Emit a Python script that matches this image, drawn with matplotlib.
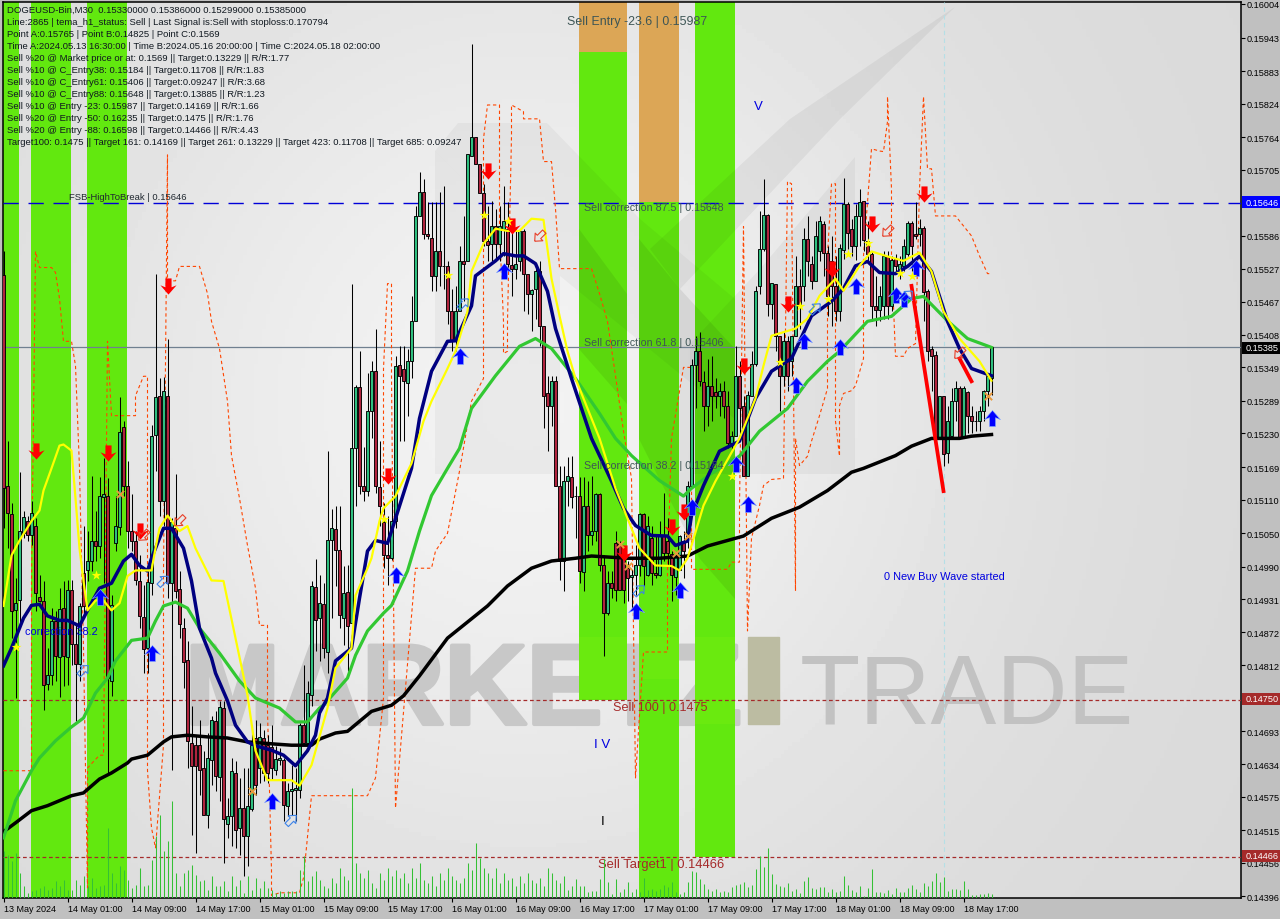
import numpy as np
import matplotlib
matplotlib.use("Agg")
import matplotlib.pyplot as plt
import matplotlib.patheffects as pe
from matplotlib.patches import Polygon, Rectangle
from matplotlib.path import Path
from matplotlib.markers import MarkerStyle
from matplotlib.transforms import Affine2D

# candles, prices in 1/100000
open_px = [
    15516,15136,15084,14911,14929,15050,15072,15046,15064,14935,
    14928,14778,14794,14892,14827,14915,14827,14947,14850,14814,
    14978,14983,15000,15036,15027,15115,15118,14784,15032,15061,
    15241,15135,15055,15036,14964,14899,14843,14960,15228,15297,
    15108,15297,14960,15059,14949,14879,14821,14672,14668,14668,
    14627,14542,14641,14712,14611,14735,14526,14541,14618,14519,
    14555,14505,14553,14681,14627,14681,14668,14665,14623,14641,
    14641,14559,14586,14587,14587,14704,14672,14758,14953,14897,
    14922,14836,15037,15057,15019,14897,14944,14888,15203,15313,
    15136,15126,15270,15342,15133,15070,15010,15005,15073,15354,
    15347,15320,15361,15432,15622,15666,15590,15583,15514,15559,
    15532,15531,15450,15396,15450,15541,15540,15730,15765,15716,
    15664,15576,15572,15604,15572,15599,15599,15534,15527,15540,
    15595,15518,15482,15491,15523,15424,15302,15279,15325,15136,
    15000,15145,15151,15117,15118,14980,15100,15046,15054,15120,
    14992,14906,14960,15032,15032,15010,14987,14971,14974,14992,
    15084,14974,15041,14978,14974,15045,15036,15012,14971,14983,
    15036,15045,15136,15354,15378,15322,15279,15316,15304,15298,
    15306,15280,15212,15226,15334,15280,15154,15298,15356,15495,
    15563,15624,15464,15500,15406,15334,15396,15360,15406,15496,
    15495,15581,15536,15504,15558,15608,15556,15540,15496,15451,
    15561,15644,15599,15568,15621,15649,15576,15554,15459,15453,
    15459,15550,15459,15545,15523,15531,15554,15610,15590,15590,
    15601,15486,15383,15372,15221,15297,15194,15226,15289,15311,
    15221,15304,15262,15253,15253,15271,15307,15330]
close_px = [
    15131,15086,14910,14924,15054,15079,15046,15086,14942,14928,
    14776,14794,14892,14829,14913,14829,14947,14850,14814,14919,
    14919,15000,15036,15027,15117,15120,14789,14920,15063,15232,
    15136,15055,15036,14965,14901,14841,14962,15226,15295,15108,
    15306,14960,15070,14946,14886,14818,14676,14631,14631,14623,
    14542,14645,14713,14613,14737,14535,14541,14622,14515,14555,
    14505,14559,14668,14596,14683,14618,14618,14627,14643,14645,
    14560,14586,14589,14591,14704,14672,14762,14955,14893,14924,
    14843,15037,15059,15019,14902,14942,14883,15203,15313,15136,
    15127,15270,15342,15136,15099,15010,15005,15073,15352,15333,
    15324,15361,15433,15622,15666,15590,15585,15514,15559,15532,
    15531,15450,15396,15450,15541,15536,15734,15765,15716,15664,
    15576,15570,15604,15572,15603,15613,15536,15527,15536,15595,
    15518,15482,15489,15523,15424,15298,15279,15324,15136,15000,
    15145,15153,15115,15118,14982,15100,15046,15054,15120,14992,
    14906,14960,14951,14947,14947,14947,14969,14974,14992,15084,
    14991,15063,14978,14974,15046,15014,15014,14974,15009,15045,
    15018,15136,15354,15378,15324,15279,15316,15298,15298,15306,
    15280,15212,15226,15334,15275,15154,15300,15356,15487,15563,
    15624,15464,15502,15406,15334,15396,15334,15406,15496,15460,
    15581,15540,15504,15586,15612,15556,15478,15496,15451,15565,
    15644,15592,15568,15621,15648,15579,15554,15460,15453,15478,
    15549,15459,15543,15531,15536,15568,15610,15568,15586,15601,
    15484,15379,15370,15221,15297,15192,15252,15289,15311,15221,
    15311,15262,15252,15252,15271,15307,15333,15385]
high_px = [
    15559,15216,15104,14969,15160,15091,15082,15108,15077,14974,
    14964,14843,14915,14910,14951,14964,14965,14965,14884,14924,
    15063,15054,15154,15091,15151,15185,15149,14938,15118,15295,
    15252,15180,15120,15054,15010,14956,14982,15246,15518,15329,
    15331,15401,15077,15156,14982,14897,14856,14739,14686,14713,
    14658,14690,14721,14730,14748,14748,14573,14645,14640,14609,
    14627,14627,14704,14713,14708,14695,14686,14704,14667,14663,
    14645,14600,14632,14627,14708,14812,14784,14964,15003,14974,
    14960,15198,15093,15099,15099,14991,14992,15500,15318,15379,
    15205,15338,15361,15419,15216,15104,15081,15118,15369,15388,
    15388,15383,15477,15640,15702,15689,15648,15648,15648,15666,
    15676,15541,15491,15496,15567,15622,15734,15932,15765,15716,
    15680,15640,15649,15635,15640,15676,15648,15604,15599,15599,
    15599,15518,15491,15531,15540,15424,15334,15333,15333,15171,
    15171,15187,15189,15136,15151,15151,15145,15154,15122,15122,
    15010,14982,14982,15054,15036,15018,15000,14983,15028,15086,
    15086,15082,15063,15045,15073,15122,15077,15018,15014,15046,
    15054,15144,15365,15406,15412,15343,15365,15369,15329,15320,
    15325,15306,15234,15387,15361,15298,15306,15378,15496,15630,
    15689,15626,15502,15500,15406,15414,15406,15406,15550,15527,
    15601,15622,15550,15612,15621,15612,15568,15586,15550,15572,
    15691,15648,15617,15644,15671,15649,15612,15558,15514,15496,
    15558,15558,15550,15554,15550,15581,15613,15612,15648,15617,
    15603,15491,15388,15378,15298,15298,15280,15311,15324,15316,
    15315,15307,15280,15271,15280,15309,15334,15386]
low_px = [
    15059,15023,14861,14753,14879,15041,15036,15028,14910,14926,
    14731,14767,14776,14784,14755,14775,14776,14812,14712,14784,
    14897,14964,14982,15000,15005,14960,14618,14757,15018,15046,
    15118,15023,15018,14956,14879,14798,14798,14938,15163,15082,
    15064,14933,14623,14933,14861,14771,14627,14506,14474,14578,
    14542,14519,14596,14586,14568,14456,14501,14487,14483,14470,
    14433,14451,14550,14578,14600,14604,14600,14605,14614,14632,
    14532,14541,14542,14532,14573,14672,14668,14739,14838,14820,
    14825,14798,14897,14955,14879,14848,14802,14888,15100,15120,
    15108,15118,15221,15122,15064,14987,14956,15001,15059,15217,
    15217,15262,15329,15432,15622,15581,15581,15486,15487,15496,
    15491,15428,15379,15379,15450,15468,15540,15730,15716,15664,
    15568,15540,15540,15545,15540,15550,15522,15477,15509,15522,
    15451,15446,15415,15437,15388,15239,15199,15243,15136,14965,
    14946,15100,15095,15041,14960,14946,15018,15028,15036,14982,
    14829,14902,14933,14928,14947,14924,14928,14915,14938,14973,
    14955,14973,14956,14969,14973,15000,14992,14928,14938,14983,
    14969,15023,15136,15275,15315,15234,15244,15252,15275,15262,
    15257,15203,15199,15226,15216,15153,15154,15298,15352,15482,
    15559,15441,15437,15378,15270,15316,15306,15334,15406,15419,
    15468,15514,15491,15504,15541,15513,15442,15424,15432,15432,
    15545,15563,15550,15543,15568,15558,15540,15432,15423,15432,
    15437,15437,15450,15518,15509,15523,15549,15522,15581,15568,
    15432,15360,15307,15221,15221,15172,15176,15225,15252,15221,
    15221,15230,15230,15234,15234,15252,15280,15299]

volume = [
    47,43,37,45,25,12,5,7,8,10,12,8,10,17,12,18,8,8,18,13,
    22,12,20,10,12,13,70,25,15,32,28,18,10,13,30,12,13,38,62,83,
    47,57,97,25,12,25,28,33,23,17,18,8,22,12,12,17,7,22,12,18,
    5,22,8,20,10,17,10,8,5,7,5,7,7,7,28,42,17,22,27,18,
    12,10,20,15,30,22,18,110,35,25,20,28,15,10,25,18,30,22,28,20,
    25,15,30,20,35,18,15,22,12,25,18,30,22,18,15,20,35,28,55,40,30,
    25,20,30,15,25,18,20,12,22,15,25,18,15,20,12,30,25,18,15,
    22,8,12,19,12,12,6,7,7,19,39,16,4,19,6,9,16,6,9,6,
    20,8,9,7,9,13,11,16,6,4,6,16,27,26,19,14,9,7,9,6,
    7,6,11,13,14,16,11,13,29,42,31,50,24,14,12,11,15,7,9,5,
    17,21,10,9,11,11,6,9,6,7,22,13,8,6,12,2,10,29,6,6,
    5,8,4,10,6,6,10,13,9,6,15,12,17,25,16,21,7,9,9,8,
    17,9,3,3,4,4,5,4]

# moving averages: bar number / price
ma200_bar = [0,3,7,11,17,20,24,27,31,32,36,40,42,46,51,56,61,68,72,77,79,83,86,89,92,97,100,104,111,
             121,126,132,137,143,147,156,164,171,176,185,192,199,206,212,215,223,227,232,239,242,247]
ma200_px = [14512,14528,14550,14559,14577,14582,14607,14618,14636,14643,14650,14674,14683,14686,14683,14681,
            14674,14670,14668,14668,14679,14690,14693,14711,14729,14740,14757,14793,14861,14919,14955,14987,
            15000,15005,15009,15005,15005,15009,15027,15045,15077,15097,15127,15160,15167,15190,15207,15221,
            15221,15225,15228]
ma50_bar = [0,3,7,9,13,17,20,23,26,28,32,36,38,40,43,46,49,54,59,63,69,73,76,79,80,86,88,91,95,97,101,104,
            107,111,114,117,123,129,133,137,143,149,153,157,164,170,172,177,184,189,196,201,206,209,216,222,
            227,230,236,241,247]
ma50_px = [14501,14568,14622,14645,14676,14701,14717,14762,14789,14820,14857,14861,14892,14919,14926,14915,
           14879,14834,14784,14753,14735,14710,14710,14735,14740,14789,14830,14874,14906,14920,14982,15054,
           15118,15167,15203,15275,15334,15387,15401,15383,15329,15266,15221,15190,15145,15117,15131,15158,
           15189,15234,15275,15324,15360,15378,15432,15441,15473,15477,15433,15401,15385]
tema_bar = [0,2,3,5,7,9,11,14,16,19,21,24,27,30,32,34,36,37,40,42,45,47,49,52,53,56,58,61,63,67,70,73,76,78,
            79,81,83,87,89,91,93,96,97,102,104,107,111,113,117,118,123,125,128,130,133,136,138,142,147,152,
            155,158,162,166,168,171,172,175,179,184,188,192,195,197,202,207,210,213,216,219,223,226,229,232,
            236,239,242,247]
tema_px = [14811,14843,14861,14897,14920,14922,14901,14893,14893,14883,14911,14951,14960,15000,15012,14992,
           14982,15005,15059,15059,15023,14964,14879,14825,14798,14748,14704,14674,14667,14659,14650,14631,
           14658,14686,14726,14753,14820,14843,14933,15018,15037,15032,15054,15167,15257,15342,15396,15397,
           15460,15514,15541,15554,15550,15550,15536,15486,15419,15329,15221,15144,15095,15064,15046,15045,
           15028,15036,15082,15136,15198,15216,15293,15342,15356,15365,15442,15468,15491,15532,15540,15520,
           15518,15531,15549,15522,15432,15383,15347,15334]
fast_bar = [0,2,4,7,9,10,12,14,15,17,18,19,20,21,23,25,27,29,31,33,37,38,39,41,43,44,46,48,52,55,58,61,63,66,
            72,74,77,81,83,87,88,91,92,94,95,98,102,105,107,111,113,116,117,120,123,126,129,132,135,137,139,
            141,143,149,153,157,159,163,167,169,171,172,175,178,184,188,190,192,198,201,204,208,210,214,217,
            221,225,229,232,235,239,244,247]
fast_px = [14919,15010,15037,15072,15091,15127,15167,15208,15210,15199,15113,15023,14964,14911,14929,14929,
           14911,14924,14973,14983,14983,15023,15059,15082,15063,15054,15063,15023,14965,14964,14861,14758,
           14658,14605,14605,14595,14632,14735,14807,14843,14938,14987,15005,15072,15095,15117,15176,15252,
           15288,15347,15378,15450,15522,15572,15599,15595,15595,15617,15615,15509,15442,15378,15329,15221,
           15131,15059,15023,14992,14991,14983,15005,15028,15100,15144,15221,15293,15352,15406,15419,15437,
           15478,15509,15487,15532,15558,15549,15541,15556,15522,15450,15401,15360,15325]

# stepped dashed envelope
env_bar = [
    0,7,7,8,9,12,13,14,15,17,
    18,19,20,21,21,24,25,26,27,33,
    33,35,36,36,36,37,38,40,40,41,
    41,42,43,44,49,51,52,54,56,57,
    59,61,63,64,66,66,67,67,69,74,
    75,77,91,93,95,95,96,97,97,98,
    102,103,107,108,111,114,117,120,120,121,
    124,124,125,125,126,126,127,127,130,130,
    134,135,137,138,139,147,149,151,153,155,
    157,158,160,166,166,167,170,172,172,172,
    181,182,184,184,185,186,187,189,190,192,
    195,196,197,198,198,199,201,202,204,206,
    206,207,208,208,209,209,210,212,213,215,
    215,217,219,220,221,221,222,222,223,225,
    226,228,229,230,231,232,233,238,239,242,
    244,246,247]
env_px = [
    14622,14622,14964,15558,15529,15529,15520,15473,15396,15396,
    15352,15167,14843,14411,14627,14650,14650,15396,15262,15262,
    15298,15333,15333,15234,14622,14519,14483,14668,14982,15732,
    15505,15505,15505,15531,15531,15482,15432,15383,15288,15190,
    15113,15028,14951,14884,14884,14730,14442,14397,14402,14402,
    14429,14577,14577,14609,14753,15347,15500,15500,15334,14555,
    14902,14987,14987,15018,15050,15162,15288,15329,15761,15822,
    15822,15599,15432,15374,15378,15432,15766,15822,15810,15797,
    15797,15720,15720,15635,15527,15527,15482,15432,15334,15234,
    15149,14609,14836,14836,14982,15221,15349,15349,15000,14985,
    14985,14998,14998,15100,15603,14874,15041,15100,15136,15147,
    15149,15684,15680,14946,15221,15172,15189,15216,15262,15311,
    15550,15680,15680,15252,15189,15280,15302,15307,15316,15365,
    15550,15743,15739,15738,15792,15837,15671,15550,15369,15369,
    15383,15392,15671,15837,15707,15707,15622,15622,15613,15586,
    15550,15518,15518]

# signal markers
sell_bar = [8,26,34,41,96,121,127,155,167,170,185,196,207,217,230]
sell_px = [15198,15194,15054,15496,15153,15703,15604,15014,15061,15088,15352,15464,15527,15608,15662]
buy_bar = [24,37,67,98,114,125,158,169,172,183,186,198,200,209,213,223,225,228,247]
buy_px = [14935,14834,14568,14974,15370,15523,14910,14947,15097,15174,15102,15318,15397,15386,15495,15480,
          15473,15529,15257]
star_bar = [3,23,95,111,120,126,182,194,199,206,211,216,224,227]
star_px = [14845,14974,15075,15516,15624,15612,15154,15358,15460,15473,15554,15574,15520,15514]
cross_bar = [29,62,154,156,168,171,246]
cross_px = [15120,14586,15030,14991,15014,15045,15297]
open_sell_bar = [35,44,134,221,239]
open_sell_px = [15046,15072,15585,15594,15374]
open_buy_bar = [20,40,72,115,159,203,226]
open_buy_px = [14803,14964,14533,15464,14947,15455,15478]
wave_a_bar, wave_a_px = [227, 235], [15496, 15126]
wave_b_bar, wave_b_px = [239, 242], [15365, 15324]

# shaded zones: first bar, last bar, lower price, upper price
zone_start = [0, 7, 21, 144, 159, 173]
zone_end = [4, 17, 31, 156, 169, 183]
zone_low = [14390, 14390, 14390, 14750, 14390, 14466]
zone_high = [16010, 16010, 16010, 15918, 15647, 16010]
entry_start = [144, 159]
entry_end = [156, 169]
entry_low = [15918, 15647]

date_ticks = [0, 16, 32, 48, 64, 80, 96, 112, 128, 144, 160, 176, 192, 208, 224, 240]
date_labels = ["13 May 2024", "14 May 01:00", "14 May 09:00", "14 May 17:00", "15 May 01:00", "15 May 09:00",
               "15 May 17:00", "16 May 01:00", "16 May 09:00", "16 May 17:00", "17 May 01:00", "17 May 09:00",
               "17 May 17:00", "18 May 01:00", "18 May 09:00", "18 May 17:00"]
price_labels = ["0.16004", "0.15943", "0.15883", "0.15824", "0.15764", "0.15705", "0.15586", "0.15527",
                "0.15467", "0.15408", "0.15349", "0.15289", "0.15230", "0.15169", "0.15110", "0.15050",
                "0.14990", "0.14931", "0.14872", "0.14812", "0.14693", "0.14634", "0.14575", "0.14515",
                "0.14456", "0.14396"]
info_lines = [
    "DOGEUSD-Bin,M30  0.15330000 0.15386000 0.15299000 0.15385000",
    "Line:2865 | tema_h1_status: Sell | Last Signal is:Sell with stoploss:0.170794",
    "Point A:0.15765 | Point B:0.14825 | Point C:0.1569",
    "Time A:2024.05.13 16:30:00 | Time B:2024.05.16 20:00:00 | Time C:2024.05.18 02:00:00",
    "Sell %20 @ Market price or at: 0.1569 || Target:0.13229 || R/R:1.77",
    "Sell %10 @ C_Entry38: 0.15184 || Target:0.11708 || R/R:1.83",
    "Sell %10 @ C_Entry61: 0.15406 || Target:0.09247 || R/R:3.68",
    "Sell %10 @ C_Entry88: 0.15648 || Target:0.13885 || R/R:1.23",
    "Sell %10 @ Entry -23: 0.15987 || Target:0.14169 || R/R:1.66",
    "Sell %20 @ Entry -50: 0.16235 || Target:0.1475 || R/R:1.76",
    "Sell %20 @ Entry -88: 0.16598 || Target:0.14466 || R/R:4.43",
    "Target100: 0.1475 || Target 161: 0.14169 || Target 261: 0.13229 || Target 423: 0.11708 || Target 685: 0.09247",
]

SCALE = 1e-5
o, h, l, c = [np.array(a) * SCALE for a in (open_px, high_px, low_px, close_px)]
bars = np.arange(len(o))

fig = plt.figure(figsize=(12.8, 9.2), dpi=100, facecolor="#c0c0c0")
ax = fig.add_axes([3 / 1280, 21 / 920, 1238 / 1280, 896 / 920])
xlim = (-0.125, 309.375)
ylim = (0.143926, 0.160076)
pix = Affine2D().scale(1, -1).translate(0, 920)  # screen pixels, top left origin

# background
X, Y = np.meshgrid(np.linspace(0, 1, 320), np.linspace(0, 1, 230))
bg = 0.85 + 0.10 * np.exp(-(((X - 0.42) / 0.38) ** 2 + ((Y - 0.45) / 0.55) ** 2))
ax.imshow(bg, extent=[*xlim, *ylim], cmap="gray", vmin=0, vmax=1, aspect="auto", zorder=0)

# watermark below the zones
ax.text(185, 725, "MARKETZ", transform=pix, fontsize=82, family="Liberation Sans", fontweight="bold",
        color="#c8c8c8", va="baseline", ha="left", zorder=1,
        path_effects=[pe.withStroke(linewidth=3, foreground="#c8c8c8")])
ax.add_patch(Rectangle((748, 638), 31, 87, transform=pix, color="#bcbca2", zorder=1))
ax.text(800, 724, "TRADE", transform=pix, fontsize=71, family="Liberation Sans",
        color="#c2c2c2", va="baseline", ha="left", zorder=1)

# zones
offset = -0.125
for a, b, lo, hi in zip(zone_start, zone_end, zone_low, zone_high):
    ax.bar(a + offset, (hi - lo) * SCALE, b - a, lo * SCALE, align="edge", color="#62e80f", zorder=2)
for a, b, lo in zip(entry_start, entry_end, entry_low):
    ax.bar(a + offset, (16010 - lo) * SCALE, b - a, lo * SCALE, align="edge", color="#dca656", zorder=2)

# logo shapes, they darken what is under them
for pts, al in [
    ([(435, 152), (560, 277), (560, 475), (435, 475)], 0.035),
    ([(458, 124), (547, 124), (640, 220), (735, 300), (735, 420), (560, 277), (435, 152)], 0.035),
    ([(855, 158), (855, 475), (690, 475), (690, 345), (760, 270)], 0.04),
    ([(955, 8), (790, 120), (650, 250), (680, 290), (840, 120)], 0.05),
    ([(579, 230), (627, 295), (627, 405), (579, 350)], 0.07),
    ([(639, 240), (680, 290), (735, 350), (735, 600), (700, 560), (639, 440)], 0.07),
]:
    ax.add_patch(Polygon(pts, closed=True, transform=pix, color="black", alpha=al, lw=0, zorder=2.5))
for x0, x1, y1 in [(579, 627, 700), (639, 679, 680), (695, 735, 725)]:
    ax.add_patch(Rectangle((x0, 638), x1 - x0, y1 - 638, transform=pix, color="#6aea0f", lw=0, zorder=2.6))

# volume on its own scale
vol_ax = ax.twinx()
vol_ax.set_ylim(0, 8960)
vol_ax.set_yticks([])
vol_ax.patch.set_visible(False)
for s in vol_ax.spines.values():
    s.set_visible(False)
ax.set_zorder(1)
vol_ax.set_zorder(2)
vol_ax.vlines(np.arange(len(volume)), 0, np.array(volume) * 10, color="#35c035", lw=0.75)

# level lines
ax.axhline(0.15646, color="#0000d8", lw=1.0, dashes=(11, 7), zorder=3)
ax.axhline(0.15385, color="#708090", lw=0.9, zorder=3)
ax.axhline(0.1475, color="#a52a2a", lw=0.9, dashes=(3, 2.2), zorder=3)
ax.axhline(0.14466, color="#a52a2a", lw=0.9, dashes=(3, 2.2), zorder=3)
ax.axvline(235, color="#b5dfe6", lw=0.8, dashes=(4, 3), zorder=3)

# envelope
ax.plot(env_bar, np.array(env_px) * SCALE, color="#ff4500", lw=0.8, dashes=(3, 2.5), zorder=3.2)

# candles
up = c >= o
ax.vlines(bars, l, h, color="black", lw=0.75, zorder=4)
ax.bar(bars[up], (c - o)[up], 0.58, o[up], color="#2fbf7f", edgecolor="black", lw=0.65, zorder=4.1)
ax.bar(bars[~up], (o - c)[~up], 0.58, c[~up], color="#b0243e", edgecolor="black", lw=0.65, zorder=4.1)

# indicator lines
ax.plot(ma200_bar, np.array(ma200_px) * SCALE, color="black", lw=2.5, zorder=5)
ax.plot(ma50_bar, np.array(ma50_px) * SCALE, color="#32c832", lw=2.3, zorder=5.1)
ax.plot(tema_bar, np.array(tema_px) * SCALE, color="#000080", lw=2.5, zorder=5.2)
ax.plot(fast_bar, np.array(fast_px) * SCALE, color="#ffff00", lw=1.6, zorder=5.3)
ax.plot(wave_a_bar, np.array(wave_a_px) * SCALE, color="#ff0000", lw=2.7, zorder=5.4)
ax.plot(wave_b_bar, np.array(wave_b_px) * SCALE, color="#ff0000", lw=2.7, zorder=5.4)

# markers
arrow_up = Path([(0, 1), (1.0, -0.15), (0.38, 0.1), (0.38, -1), (-0.38, -1), (-0.38, 0.1), (-1.0, -0.15), (0, 1)])
hollow = Path([(0, 1), (0.8, 0.1), (0.35, 0.1), (0.35, -1), (-0.35, -1), (-0.35, 0.1), (-0.8, 0.1), (0, 1)])
ax.scatter(sell_bar, np.array(sell_px) * SCALE, s=135, color="#ff0000", lw=0, zorder=6,
           marker=MarkerStyle(arrow_up, transform=Affine2D().rotate_deg(180)))
ax.scatter(buy_bar, np.array(buy_px) * SCALE, s=135, color="#0000ff", edgecolor="#8fb4ff", lw=0.4, zorder=6,
           marker=MarkerStyle(arrow_up))
ax.scatter(star_bar, np.array(star_px) * SCALE, s=55, color="#ffff00", marker="*", lw=0, zorder=6)
ax.scatter(cross_bar, np.array(cross_px) * SCALE, s=28, color="#e89a3c", marker="x", lw=1.4, zorder=6)
ax.scatter(open_sell_bar, np.array(open_sell_px) * SCALE, s=95, facecolor="none", edgecolor="#e8402a", lw=0.8, zorder=6,
           marker=MarkerStyle(hollow, transform=Affine2D().rotate_deg(135)))
ax.scatter(open_buy_bar, np.array(open_buy_px) * SCALE, s=95, facecolor="none", edgecolor="#3c82e8", lw=0.8, zorder=6,
           marker=MarkerStyle(hollow, transform=Affine2D().rotate_deg(-45)))

ax.set_xlim(xlim)
ax.set_ylim(ylim)
vol_ax.set_xlim(xlim)

# axes
ax.set_xticks(date_ticks)
ax.set_xticklabels(date_labels, ha="left", fontsize=6.5, family="Liberation Sans", color="black")
ax.tick_params(axis="x", length=3, width=0.8, pad=1.5, color="black")
ax.yaxis.tick_right()
price_ticks = [float(s) for s in price_labels]
ax.set_yticks(price_ticks)
ax.set_yticklabels(price_labels, fontsize=6.6, family="Liberation Sans", color="black")
ax.tick_params(axis="y", length=3, width=0.8, pad=1.2, color="black")
for s in ax.spines.values():
    s.set_linewidth(1.1)
    s.set_color("black")

# boxed prices
for y, txt, bgc in [(203, "0.15646", "#0000ff"), (348.5, "0.15385", "#000000"),
                    (700, "0.14750", "#a52a2a"), (857, "0.14466", "#a52a2a")]:
    fig.add_artist(Rectangle((1242, y - 6), 38, 12, transform=pix, color=bgc, lw=0, zorder=10))
    fig.text(1246 / 1280, 1 - y / 920, txt, fontsize=6.6, family="Liberation Sans", color="white",
             va="center", ha="left", zorder=11)

# info panel
for n, line in enumerate(info_lines):
    ax.text(7, 10.5 + 12 * n, line, transform=pix, fontsize=6.8, family="Liberation Sans",
            color="#101820", va="center", ha="left", zorder=7)

# chart labels
for x, y, txt, col, fs in [
    (567, 22, "Sell Entry -23.6 | 0.15987", "#3d5555", 8.95),
    (584, 208, "Sell correction 87.5 | 0.15648", "#3d5555", 7.65),
    (584, 343, "Sell correction 61.8 | 0.15406", "#3d5555", 7.65),
    (584, 466, "Sell correction 38.2 | 0.15184", "#3d5555", 7.65),
    (613, 708, "Sell 100 | 0.1475", "#a52a2a", 9.1),
    (598, 865, "Sell Target1 | 0.14466", "#a52a2a", 9.4),
    (69, 198, "FSB-HighToBreak | 0.15646", "#202830", 6.8),
    (884, 577, "0 New Buy Wave started", "#0000e0", 7.9),
    (25, 632, "correction 38.2", "#0000e0", 7.8),
    (754, 107, "V", "#0000e0", 9.5),
    (594, 745, "I V", "#0000e0", 9.5),
    (601, 822, "I", "#000000", 9.5),
]:
    ax.text(x, y, txt, transform=pix, fontsize=fs, family="Liberation Sans", color=col, va="center", ha="left", zorder=7)

fig.savefig("out.png", dpi=100, facecolor=fig.get_facecolor())
